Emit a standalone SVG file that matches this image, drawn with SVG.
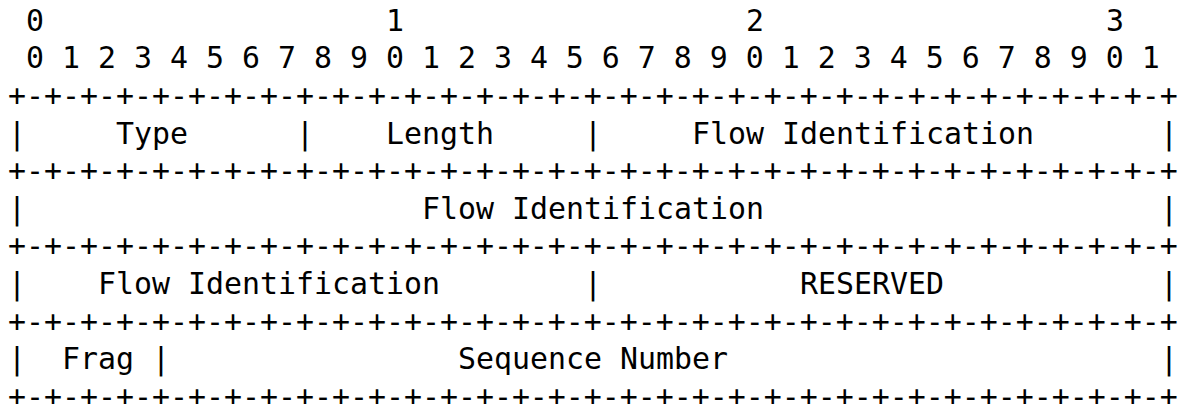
<svg xmlns="http://www.w3.org/2000/svg" width="1183" height="404" viewBox="0 0 1183 404">
<style>
text{font-family:"DejaVu Sans Mono","Liberation Mono",monospace;font-size:29.9px;fill:#000}
</style>
<rect width="1183" height="404" fill="#fff"/>
<g id="bit-ruler">
<text x="26" y="30.8">0</text>
<text x="386" y="30.8">1</text>
<text x="746" y="30.8">2</text>
<text x="1106" y="30.8">3</text>
<text x="26" y="68.4">0 1 2 3 4 5 6 7 8 9 0 1 2 3 4 5 6 7 8 9 0 1 2 3 4 5 6 7 8 9 0 1</text>
</g>
<g id="borders">
<text x="8" y="106">+-+-+-+-+-+-+-+-+-+-+-+-+-+-+-+-+-+-+-+-+-+-+-+-+-+-+-+-+-+-+-+-+</text>
<text x="8" y="181.2">+-+-+-+-+-+-+-+-+-+-+-+-+-+-+-+-+-+-+-+-+-+-+-+-+-+-+-+-+-+-+-+-+</text>
<text x="8" y="256.4">+-+-+-+-+-+-+-+-+-+-+-+-+-+-+-+-+-+-+-+-+-+-+-+-+-+-+-+-+-+-+-+-+</text>
<text x="8" y="331.6">+-+-+-+-+-+-+-+-+-+-+-+-+-+-+-+-+-+-+-+-+-+-+-+-+-+-+-+-+-+-+-+-+</text>
<text x="8" y="406.8">+-+-+-+-+-+-+-+-+-+-+-+-+-+-+-+-+-+-+-+-+-+-+-+-+-+-+-+-+-+-+-+-+</text>
</g>
<g id="row1">
<text x="8" y="143.6">|</text>
<text x="116" y="143.6">Type</text>
<text x="296" y="143.6">|</text>
<text x="386" y="143.6">Length</text>
<text x="584" y="143.6">|</text>
<text x="692" y="143.6">Flow Identification</text>
<text x="1160" y="143.6">|</text>
</g>
<g id="row2">
<text x="8" y="218.8">|</text>
<text x="422" y="218.8">Flow Identification</text>
<text x="1160" y="218.8">|</text>
</g>
<g id="row3">
<text x="8" y="294">|</text>
<text x="98" y="294">Flow Identification</text>
<text x="584" y="294">|</text>
<text x="800" y="294">RESERVED</text>
<text x="1160" y="294">|</text>
</g>
<g id="row4">
<text x="8" y="369.2">|</text>
<text x="62" y="369.2">Frag</text>
<text x="152" y="369.2">|</text>
<text x="458" y="369.2">Sequence Number</text>
<text x="1160" y="369.2">|</text>
</g>
</svg>
